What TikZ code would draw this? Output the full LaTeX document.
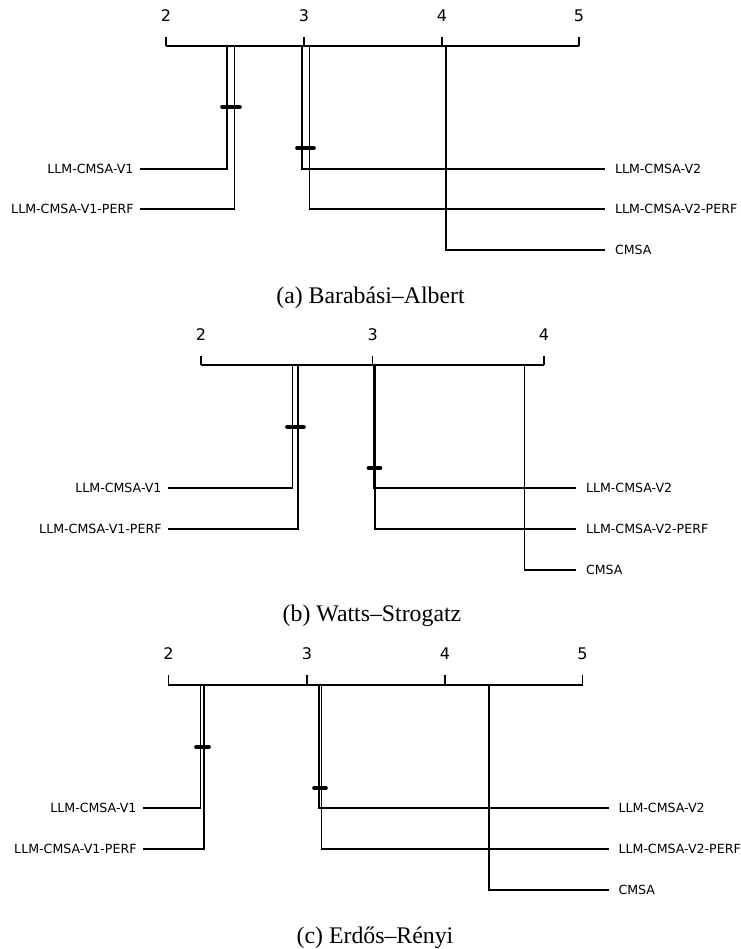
\documentclass[tikz,border=0pt]{standalone}
\usepackage{fontspec}
\setmainfont{Liberation Serif}
\newfontfamily\rankfont{DejaVu Sans}

\begin{document}
\begin{tikzpicture}[x=1pt, y=-1pt, line width=1.2pt,
  rank/.style = {font=\rankfont\fontsize{16}{19}\selectfont, inner sep=0pt},
  method/.style = {font=\rankfont\fontsize{12.6}{15}\selectfont,
    inner sep=0pt},
  left method/.style = {method, anchor=east, outer xsep=6.5pt},
  right method/.style = {method, anchor=west, outer xsep=10pt},
  clique/.style = {line width=3.6pt, line cap=round},
  caption/.style = {font=\fontsize{23.8}{28}\selectfont}]
  \useasboundingbox (0,0) rectangle (740,949);

  % (a)
  \draw (166,46) -- (579,46);
  \foreach \r/\x in {2/166, 3/304, 4/442, 5/579} {
    \draw (\x,37) -- (\x,46);
    \node[rank] (a-t\r) at (\x,16) {\r};
  }
  \coordinate (a-v1) at (227,46);
  \coordinate (a-v1p) at (234.4,46);
  \coordinate (a-v2) at (302,46);
  \coordinate (a-v2p) at (309.4,46);
  \coordinate (a-cmsa) at (446,46);
  \node[left method] (a-v1-l) at (140,169) {LLM-CMSA-V1};
  \node[left method] (a-v1p-l) at (140,209) {LLM-CMSA-V1-PERF};
  \node[right method] (a-v2-l) at (605,169) {LLM-CMSA-V2};
  \node[right method] (a-v2p-l) at (605,209) {LLM-CMSA-V2-PERF};
  \node[right method] (a-cmsa-l) at (605,250) {CMSA};
  \draw (a-v1) |- (a-v1-l);
  \draw (a-v1p) |- (a-v1p-l);
  \draw (a-v2) |- (a-v2-l);
  \draw (a-v2p) |- (a-v2p-l);
  \draw (a-cmsa) |- (a-cmsa-l);
  \draw[clique] (222,107) -- (240,107);
  \draw[clique] (297,148) -- (314,148);
  \node[caption] (a-cap) at (370.5,298) {(a) Barabási–Albert};

  % (b)
  \draw (201,365) -- (544,365);
  \foreach \r/\x in {2/201, 3/372.6, 4/544} {
    \draw (\x,356) -- (\x,365);
    \node[rank] (b-t\r) at (\x,335) {\r};
  }
  \coordinate (b-v1) at (292.5,365);
  \coordinate (b-v1p) at (298,365);
  \coordinate (b-v2) at (373.6,365);
  \coordinate (b-v2p) at (375,365);
  \coordinate (b-cmsa) at (524.5,365);
  \node[left method] (b-v1-l) at (168,488) {LLM-CMSA-V1};
  \node[left method] (b-v1p-l) at (168,529) {LLM-CMSA-V1-PERF};
  \node[right method] (b-v2-l) at (576,488) {LLM-CMSA-V2};
  \node[right method] (b-v2p-l) at (576,529) {LLM-CMSA-V2-PERF};
  \node[right method] (b-cmsa-l) at (576,570) {CMSA};
  \draw (b-v1) |- (b-v1-l);
  \draw (b-v1p) |- (b-v1p-l);
  \draw (b-v2) |- (b-v2-l);
  \draw (b-v2p) |- (b-v2p-l);
  \draw (b-cmsa) |- (b-cmsa-l);
  \draw[clique] (287,427) -- (304,427);
  \draw[clique] (368.5,468) -- (380.5,468);
  \node[caption] (b-cap) at (372,616) {(b) Watts–Strogatz};

  % (c)
  \draw (168.4,685) -- (582.5,685);
  \foreach \r/\x in {2/168.4, 3/307, 4/445, 5/582.5} {
    \draw (\x,675) -- (\x,685);
    \node[rank] (c-t\r) at (\x,654) {\r};
  }
  \coordinate (c-v1) at (200.5,685);
  \coordinate (c-v1p) at (204,685);
  \coordinate (c-v2) at (319,685);
  \coordinate (c-v2p) at (321.5,685);
  \coordinate (c-cmsa) at (489,685);
  \node[left method] (c-v1-l) at (143,808) {LLM-CMSA-V1};
  \node[left method] (c-v1p-l) at (143,849) {LLM-CMSA-V1-PERF};
  \node[right method] (c-v2-l) at (608.5,808) {LLM-CMSA-V2};
  \node[right method] (c-v2p-l) at (608.5,849) {LLM-CMSA-V2-PERF};
  \node[right method] (c-cmsa-l) at (608.5,890) {CMSA};
  \draw (c-v1) |- (c-v1-l);
  \draw (c-v1p) |- (c-v1p-l);
  \draw (c-v2) |- (c-v2-l);
  \draw (c-v2p) |- (c-v2p-l);
  \draw (c-cmsa) |- (c-cmsa-l);
  \draw[clique] (196,747) -- (209,747);
  \draw[clique] (314,788) -- (326,788);
  \node[caption] (c-cap) at (375,938) {(c) Erdős–Rényi};
\end{tikzpicture}
\end{document}
